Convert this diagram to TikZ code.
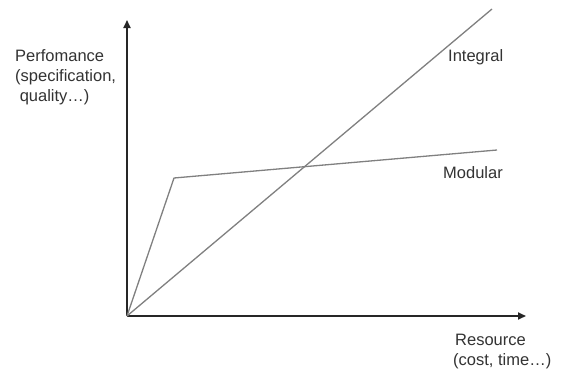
\documentclass[tikz,border=0pt]{standalone}
\usepackage{fontspec}
\setmainfont{Liberation Sans}
\usetikzlibrary{arrows.meta}
\begin{document}
\begin{tikzpicture}[x=1pt,y=-1pt,
  axis/.style={draw=black!85,line width=1.8pt,-{Triangle[length=8pt,width=7pt]}},
  curve/.style={draw=black!50,line width=1.3pt,line join=round},
  lbl/.style={inner sep=0pt,anchor=base west,text=black!80,font=\fontsize{16.5}{20}\selectfont},
  mlbl/.style={lbl,align=left}]
  \useasboundingbox[fill=white] (0,0) rectangle (562,372);
  % axes
  \coordinate (O) at (127,316);
  \coordinate (ytip) at (127,20);
  \coordinate (xtip) at (526,316);
  \draw[axis] (O) -- (ytip);
  \draw[axis] (O) -- (xtip);
  % trade-off curves
  \coordinate (knee) at (174,178);
  \coordinate (mend) at (497,150);
  \coordinate (iend) at (492,9);
  \draw[curve] (O) -- (knee) -- (mend);
  \draw[curve] (O) -- (iend);
  % labels
  \node[lbl] (integral) at (448,61) {Integral};
  \node[lbl] (modular) at (443,178) {Modular};
  \node[lbl] (perf1) at (15,61) {Perfomance};
  \node[lbl] (perf2) at (15,81) {(specification,};
  \node[lbl] (perf3) at (15,101) {\ quality…)};
  \node[lbl] (res1) at (455,345) {Resource};
  \node[lbl] (res2) at (453,365) {(cost, time…)};
\end{tikzpicture}
\end{document}
